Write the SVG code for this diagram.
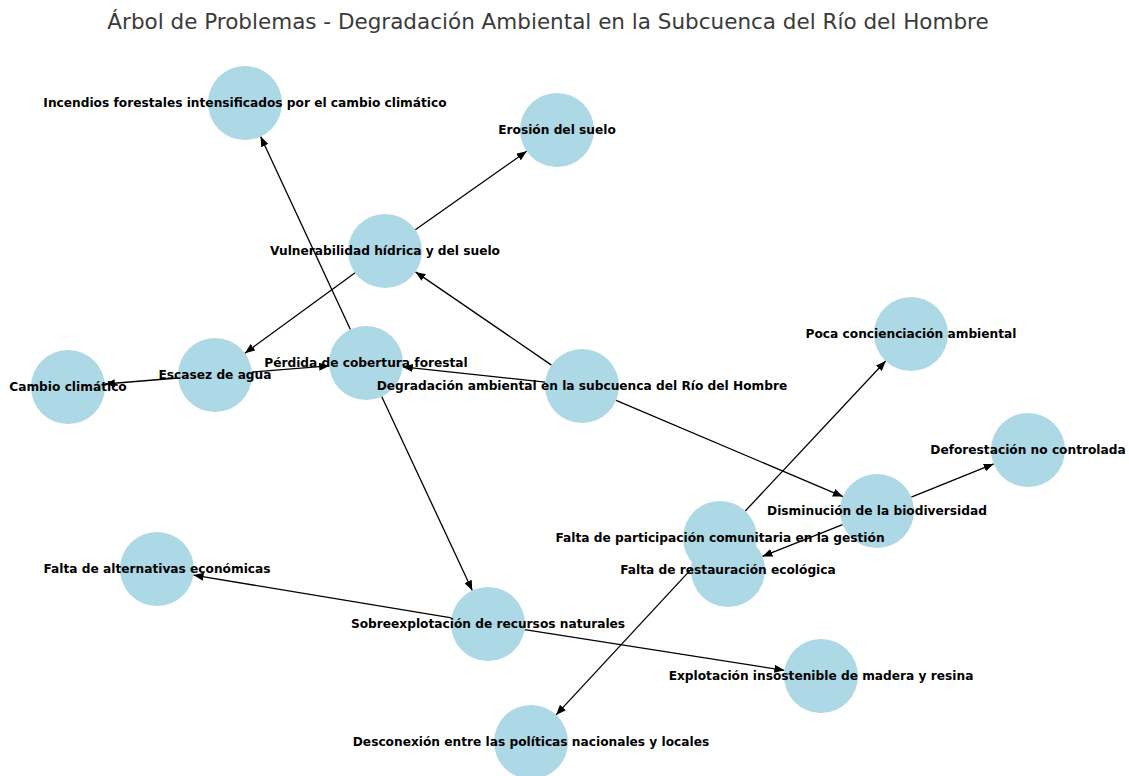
<svg xmlns="http://www.w3.org/2000/svg" width="1129" height="776" viewBox="0 0 1129 776">
<style>
.n{fill:#ADD8E6;}
.l{font-family:"DejaVu Sans",sans-serif;font-size:12.2px;font-weight:bold;fill:#000;text-anchor:middle;dominant-baseline:central;}
.e{stroke:#000;stroke-width:1.3;fill:none;marker-end:url(#ah);}
.t{font-family:"DejaVu Sans",sans-serif;font-size:21.5px;fill:#3a3a3a;text-anchor:middle;}
</style>
<defs>
<marker id="ah" markerUnits="userSpaceOnUse" markerWidth="10" markerHeight="8" refX="10" refY="4" orient="auto">
<path d="M0,0 L10,4 L0,8 z" fill="#000"/>
</marker>
<clipPath id="clipR"><rect x="680" y="546" width="100" height="70"/></clipPath>
</defs>
<rect width="1129" height="776" fill="#fff"/>
<text class="t" x="548" y="29">Árbol de Problemas - Degradación Ambiental en la Subcuenca del Río del Hombre</text>
<g id="edges">
<line class="e" x1="551.5" y1="365.1" x2="415.5" y2="271.9"/>
<line class="e" x1="545.2" y1="382.1" x2="402.8" y2="366.9"/>
<line class="e" x1="616.1" y1="400.4" x2="842.9" y2="496.6"/>
<line class="e" x1="415.3" y1="229.7" x2="526.7" y2="151.3"/>
<line class="e" x1="355.1" y1="272.8" x2="244.9" y2="353.2"/>
<line class="e" x1="350.4" y1="329.5" x2="260.6" y2="136.5"/>
<line class="e" x1="381.7" y1="396.5" x2="472.3" y2="590.5"/>
<line class="e" x1="178.1" y1="378" x2="104.9" y2="384"/>
<line class="e" x1="251.9" y1="372.1" x2="329.1" y2="365.9"/>
<line class="e" x1="911.3" y1="497.1" x2="993.7" y2="463.9"/>
<line class="e" x1="842.6" y1="524.6" x2="762.4" y2="556.4"/>
<line class="e" x1="745.3" y1="511" x2="885.7" y2="361"/>
<line class="e" x1="694.9" y1="565.1" x2="556.1" y2="714.9"/>
<line class="e" x1="451.5" y1="617.9" x2="193.5" y2="575.1"/>
<line class="e" x1="524.6" y1="629.7" x2="784.4" y2="670.3"/>
</g>
<g id="n-incendios"><circle class="n" cx="245" cy="103" r="37"/><text class="l" x="245" y="103">Incendios forestales intensificados por el cambio climático</text></g>
<g id="n-erosion"><circle class="n" cx="557" cy="130" r="37"/><text class="l" x="557" y="130">Erosión del suelo</text></g>
<g id="n-vulnerabilidad"><circle class="n" cx="385" cy="251" r="37"/><text class="l" x="385" y="251">Vulnerabilidad hídrica y del suelo</text></g>
<g id="n-poca"><circle class="n" cx="911" cy="334" r="37"/><text class="l" x="911" y="334">Poca concienciación ambiental</text></g>
<g id="n-cambio"><circle class="n" cx="68" cy="387" r="37"/><text class="l" x="68" y="387">Cambio climático</text></g>
<g id="n-escasez"><circle class="n" cx="215" cy="375" r="37"/><text class="l" x="215" y="375">Escasez de agua</text></g>
<g id="n-perdida"><circle class="n" cx="366" cy="363" r="37"/><text class="l" x="366" y="363">Pérdida de cobertura forestal</text></g>
<g id="n-degradacion"><circle class="n" cx="582" cy="386" r="37"/><text class="l" x="582" y="386">Degradación ambiental en la subcuenca del Río del Hombre</text></g>
<g id="n-deforestacion"><circle class="n" cx="1028" cy="450" r="37"/><text class="l" x="1028" y="450">Deforestación no controlada</text></g>
<g id="n-disminucion"><circle class="n" cx="877" cy="511" r="37"/><text class="l" x="877" y="511">Disminución de la biodiversidad</text></g>
<g id="n-participacion"><circle class="n" cx="720" cy="538" r="37"/><text class="l" x="720" y="538">Falta de participación comunitaria en la gestión</text></g>
<g id="n-restauracion"><circle class="n" cx="728" cy="570" r="37" clip-path="url(#clipR)"/><text class="l" x="728" y="570">Falta de restauración ecológica</text></g>
<g id="n-alternativas"><circle class="n" cx="157" cy="569" r="37"/><text class="l" x="157" y="569">Falta de alternativas económicas</text></g>
<g id="n-sobreexplotacion"><circle class="n" cx="488" cy="624" r="37"/><text class="l" x="488" y="624">Sobreexplotación de recursos naturales</text></g>
<g id="n-explotacion"><circle class="n" cx="821" cy="676" r="37"/><text class="l" x="821" y="676">Explotación insostenible de madera y resina</text></g>
<g id="n-desconexion"><circle class="n" cx="531" cy="742" r="37"/><text class="l" x="531" y="742">Desconexión entre las políticas nacionales y locales</text></g>
</svg>
